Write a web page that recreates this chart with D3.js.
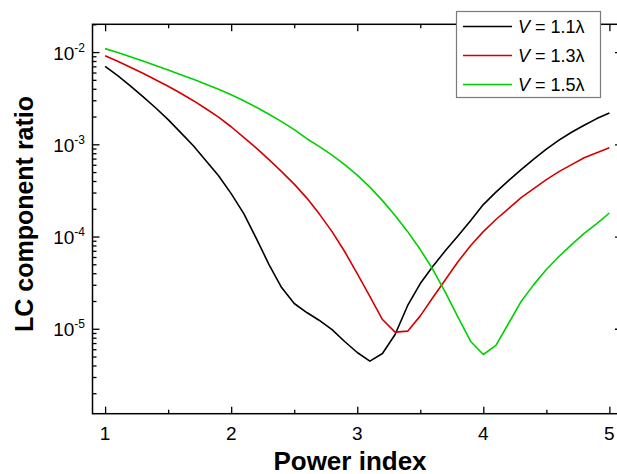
<!DOCTYPE html>
<html>
<head>
<meta charset="utf-8">
<script src="https://cdn.jsdelivr.net/npm/d3@7"></script>
<style>
  body { margin: 0; background: #fff; }
  svg { display: block; }
  text { font-family: Arial, "Liberation Sans", Helvetica, sans-serif; fill: #000; }
</style>
</head>
<body>
<svg id="chart" width="617" height="474"></svg>
<script>
// Power index sampled every 0.1
const powerIndex = [1.0, 1.1, 1.2, 1.3, 1.4, 1.5, 1.6, 1.7, 1.8, 1.9,
                    2.0, 2.1, 2.2, 2.3, 2.4, 2.5, 2.6, 2.7, 2.8, 2.9,
                    3.0, 3.1, 3.2, 3.3, 3.4, 3.5, 3.6, 3.7, 3.8, 3.9,
                    4.0, 4.1, 4.2, 4.3, 4.4, 4.5, 4.6, 4.7, 4.8, 4.9, 5.0];

// LC component ratio for V = 1.1λ
const ratioV11 = [7.0e-3, 5.54e-3, 4.31e-3, 3.28e-3, 2.49e-3, 1.85e-3, 1.34e-3, 9.66e-4, 6.65e-4, 4.57e-4,
                  2.92e-4, 1.77e-4, 9.5e-5, 4.97e-5, 2.80e-5, 1.88e-5, 1.50e-5, 1.23e-5, 9.8e-6, 7.28e-6,
                  5.53e-6, 4.46e-6, 5.40e-6, 8.67e-6, 1.79e-5, 3.09e-5, 4.76e-5, 7.05e-5, 1.02e-4, 1.49e-4,
                  2.22e-4, 3.03e-4, 4.04e-4, 5.31e-4, 6.90e-4, 8.85e-4, 1.11e-3, 1.35e-3, 1.61e-3, 1.90e-3, 2.18e-3];

// LC component ratio for V = 1.3λ
const ratioV13 = [9.12e-3, 7.95e-3, 6.84e-3, 5.89e-3, 5.01e-3, 4.26e-3, 3.58e-3, 2.97e-3, 2.43e-3, 1.97e-3,
                  1.55e-3, 1.19e-3, 9.08e-4, 6.82e-4, 5.06e-4, 3.70e-4, 2.61e-4, 1.75e-4, 1.13e-4, 6.88e-5,
                  3.97e-5, 2.24e-5, 1.26e-5, 9.19e-6, 9.42e-6, 1.38e-5, 2.18e-5, 3.42e-5, 5.36e-5, 7.98e-5,
                  1.13e-4, 1.53e-4, 2.01e-4, 2.64e-4, 3.31e-4, 4.14e-4, 5.06e-4, 6.02e-4, 7.16e-4, 8.11e-4, 9.18e-4];

// LC component ratio for V = 1.5λ
const ratioV15 = [1.09e-2, 9.88e-3, 8.89e-3, 7.99e-3, 7.14e-3, 6.38e-3, 5.68e-3, 5.07e-3, 4.48e-3, 3.96e-3,
                  3.45e-3, 2.97e-3, 2.52e-3, 2.12e-3, 1.76e-3, 1.44e-3, 1.15e-3, 9.42e-4, 7.62e-4, 6.02e-4,
                  4.63e-4, 3.43e-4, 2.45e-4, 1.69e-4, 1.13e-4, 7.22e-5, 4.39e-5, 2.47e-5, 1.33e-5, 7.28e-6,
                  5.26e-6, 6.59e-6, 1.14e-5, 1.98e-5, 3.01e-5, 4.39e-5, 6.07e-5, 8.18e-5, 1.08e-4, 1.38e-4, 1.80e-4];

const seriesLabels = ["1.1λ", "1.3λ", "1.5λ"];
const xTicks = [1, 2, 3, 4, 5];
const xMinorTicks = [1.5, 2.5, 3.5, 4.5];
const yTicks = [1e-2, 1e-3, 1e-4, 1e-5];
const yTickExponents = ["-2", "-3", "-4", "-5"];

const seriesColors = ["#000000", "#d40000", "#00d000"];

const svg = d3.select("#chart");
const plotLeft = 92.5, plotRight = 622, plotTop = 24.3, plotBottom = 413.7;

const x = d3.scaleLinear().domain([0.9, 5.1]).range([plotLeft, plotRight]);
const y = d3.scaleLog().domain([1.2e-6, 2e-2]).range([plotBottom, plotTop]);

// log minor ticks (2..9 per decade) inside the domain
const yMinorTicks = [];
for (let e = -6; e <= -2; e++) {
  for (let m = 2; m <= 9; m++) {
    const v = m * Math.pow(10, e);
    if (v >= y.domain()[0] && v <= y.domain()[1]) yMinorTicks.push(v);
  }
}

svg.append("defs").append("clipPath").attr("id", "plot-clip")
  .append("rect").attr("x", plotLeft).attr("y", plotTop)
  .attr("width", plotRight - plotLeft).attr("height", plotBottom - plotTop);

// curves
const line = d3.line().x(d => x(d[0])).y(d => y(d[1]));
const series = [ratioV11, ratioV13, ratioV15];
const curves = svg.append("g").attr("clip-path", "url(#plot-clip)");
series.forEach((vals, i) => {
  curves.append("path")
    .datum(powerIndex.map((p, j) => [p, vals[j]]))
    .attr("fill", "none")
    .attr("stroke", seriesColors[i])
    .attr("stroke-width", 1.6)
    .attr("stroke-linejoin", "round")
    .attr("d", line);
});

// axes with inward ticks on all four sides
function tickAxis(axisFn, scale, values, size, transform) {
  const g = svg.append("g").attr("transform", transform)
    .call(axisFn(scale).tickValues(values).tickSize(-size).tickFormat(""));
  g.select(".domain").remove();
  g.selectAll(".tick line").attr("stroke", "#000").attr("stroke-width", 1.3);
  g.selectAll(".tick text").remove();
  return g;
}
tickAxis(d3.axisBottom, x, xTicks, 7, `translate(0,${plotBottom})`);
tickAxis(d3.axisBottom, x, xMinorTicks, 4, `translate(0,${plotBottom})`);
tickAxis(d3.axisTop, x, xTicks, 7, `translate(0,${plotTop})`);
tickAxis(d3.axisTop, x, xMinorTicks, 4, `translate(0,${plotTop})`);
tickAxis(d3.axisLeft, y, yTicks, 7, `translate(${plotLeft},0)`);
tickAxis(d3.axisLeft, y, yMinorTicks, 4, `translate(${plotLeft},0)`);
tickAxis(d3.axisRight, y, yTicks, 7, `translate(${plotRight},0)`);
tickAxis(d3.axisRight, y, yMinorTicks, 4, `translate(${plotRight},0)`);

// frame
svg.append("rect")
  .attr("x", plotLeft).attr("y", plotTop)
  .attr("width", plotRight - plotLeft).attr("height", plotBottom - plotTop)
  .attr("fill", "none").attr("stroke", "#000").attr("stroke-width", 1.5);

// x tick labels
svg.append("g").selectAll("text").data(xTicks).join("text")
  .attr("x", d => x(d)).attr("y", 439.5)
  .attr("text-anchor", "middle").attr("font-size", 19)
  .text(d => d);

// y tick labels as powers of ten
const yl = svg.append("g").selectAll("text").data(yTicks).join("text")
  .attr("x", 85).attr("y", d => y(d) + 7.5)
  .attr("text-anchor", "end").attr("font-size", 19);
yl.append("tspan").text("10");
yl.append("tspan").attr("font-size", 12).attr("dy", -8).text((d, i) => yTickExponents[i]);

// axis titles
svg.append("text")
  .attr("x", 350).attr("y", 469.5)
  .attr("text-anchor", "middle").attr("font-size", 26).attr("font-weight", "bold")
  .text("Power index");
svg.append("text")
  .attr("transform", "translate(33,214) rotate(-90)")
  .attr("text-anchor", "middle").attr("font-size", 25).attr("font-weight", "bold")
  .text("LC component ratio");

// legend
const legend = svg.append("g");
legend.append("rect")
  .attr("x", 456.5).attr("y", 11.5).attr("width", 144).attr("height", 86)
  .attr("fill", "#fff").attr("stroke", "#7a7a7a").attr("stroke-width", 1.2);
const rows = legend.selectAll("g.row").data(seriesLabels).join("g")
  .attr("class", "row")
  .attr("transform", (d, i) => `translate(0,${26.5 + i * 29})`);
rows.append("line")
  .attr("x1", 463).attr("x2", 512).attr("y1", 0).attr("y2", 0)
  .attr("stroke", (d, i) => seriesColors[i]).attr("stroke-width", 1.6);
const lt = rows.append("text").attr("x", 518).attr("y", 6.5).attr("font-size", 18);
lt.append("tspan").attr("font-style", "italic").text("V");
lt.append("tspan").text(d => " = " + d);
</script>
</body>
</html>
